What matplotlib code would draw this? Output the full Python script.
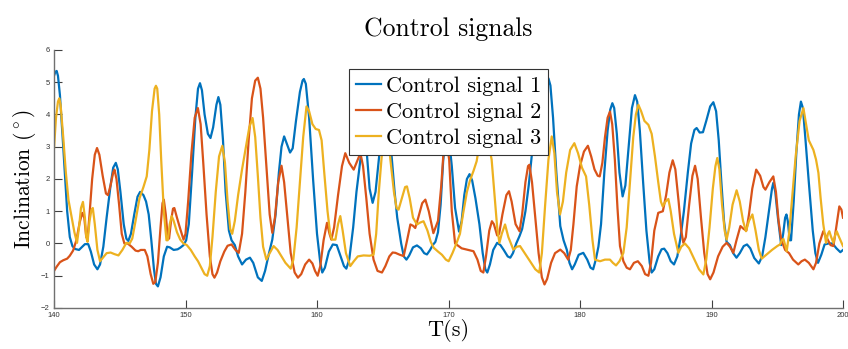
import matplotlib
matplotlib.use("Agg")
import matplotlib.pyplot as plt

# Control signal samples (time in s, inclination in degrees)
t1 = [140.0, 140.1, 140.2, 140.3, 140.45, 140.7, 141.0, 141.2, 141.4, 141.6, 141.9, 142.1, 142.35, 142.6,
      142.8, 143.05, 143.3, 143.5, 143.75, 144.0, 144.3, 144.5, 144.7, 144.85, 145.05, 145.3, 145.5, 145.65,
      145.85, 146.1, 146.35, 146.55, 146.8, 147.0, 147.2, 147.4, 147.6, 147.75, 147.9, 148.1, 148.35, 148.6,
      148.8, 149.1, 149.4, 149.6, 149.85, 150.05, 150.25, 150.5, 150.75, 150.95, 151.1, 151.25, 151.45, 151.7,
      151.9, 152.1, 152.35, 152.5, 152.65, 152.85, 153.05, 153.3, 153.5, 153.75, 154.0, 154.3, 154.6, 154.9,
      155.15, 155.5, 155.8, 156.05, 156.35, 156.6, 156.85, 157.1, 157.3, 157.5, 157.7, 157.95, 158.15, 158.4,
      158.7, 158.9, 159.0, 159.15, 159.4, 159.7, 160.0, 160.25, 160.4, 160.6, 160.9, 161.2, 161.5, 161.8,
      162.05, 162.23, 162.45, 162.75, 163.0, 163.3, 163.55, 163.75, 164.0, 164.23, 164.45, 164.7, 164.95,
      165.2, 165.45, 165.7, 165.9, 166.1, 166.4, 166.6, 166.8, 167.0, 167.3, 167.6, 167.9, 168.15, 168.36,
      168.6, 168.8, 169.0, 169.2, 169.4, 169.6, 169.85, 170.05, 170.25, 170.5, 170.8, 171.0, 171.2, 171.4,
      171.6, 171.8, 172.05, 172.35, 172.6, 172.8, 172.95, 173.15, 173.4, 173.7, 173.95, 174.2, 174.5, 174.7,
      174.9, 175.15, 175.4, 175.6, 175.85, 176.1, 176.35, 176.6, 176.9, 177.2, 177.45, 177.6, 177.75, 177.95,
      178.2, 178.5, 178.75, 179.0, 179.2, 179.4, 179.6, 179.9, 180.25, 180.55, 180.8, 181.0, 181.2, 181.4,
      181.6, 181.85, 182.1, 182.3, 182.46, 182.6, 182.8, 183.0, 183.24, 183.45, 183.7, 183.95, 184.18, 184.35,
      184.55, 184.8, 185.05, 185.3, 185.45, 185.65, 185.95, 186.2, 186.4, 186.65, 186.9, 187.15, 187.4,
      187.65, 187.9, 188.2, 188.45, 188.7, 188.87, 189.1, 189.35, 189.6, 189.9, 190.14, 190.35, 190.55,
      190.75, 190.95, 191.15, 191.4, 191.65, 191.9, 192.15, 192.45, 192.7, 192.95, 193.25, 193.6, 193.85,
      194.1, 194.4, 194.6, 194.7, 194.85, 195.05, 195.3, 195.45, 195.6, 195.7, 195.8, 195.95, 196.05, 196.25,
      196.45, 196.65, 196.8, 196.95, 197.15, 197.4, 197.7, 197.9, 198.1, 198.35, 198.6, 198.9, 199.2, 199.5,
      199.8, 200.0]
s1 = [5.2, 5.32, 5.35, 5.2, 4.6, 3.0, 1.0, 0.2, -0.08, -0.17, -0.2, -0.12, -0.02, -0.02,
      -0.25, -0.65, -0.8, -0.65, -0.1, 0.8, 1.8, 2.35, 2.5, 2.3, 1.6, 0.6, 0.15, 0.08,
      0.3, 0.9, 1.45, 1.6, 1.5, 1.3, 0.9, 0.1, -0.8, -1.25, -1.33, -1.05, -0.4, -0.1,
      -0.12, -0.2, -0.18, -0.13, -0.05, 0.1, 0.6, 2.2, 3.9, 4.8, 4.97, 4.75, 4.0, 3.4,
      3.27, 3.6, 4.3, 4.54, 4.3, 3.2, 1.6, 0.4, 0.1, -0.05, -0.4, -0.65, -0.5, -0.44,
      -0.6, -1.05, -1.16, -0.85, -0.3, 0.12, 0.9, 2.2, 3.0, 3.32, 3.1, 2.82, 2.95, 3.8,
      4.7, 5.05, 5.1, 4.95, 3.9, 2.0, 0.3, -0.6, -0.9, -0.75, -0.25, -0.03, -0.05, -0.4,
      -0.7, -0.78, -0.5, 0.5, 1.6, 2.6, 3.4, 3.0, 1.7, 1.26, 1.6, 2.6, 3.6,
      4.1, 3.8, 2.6, 1.6, 0.8, 0.0, -0.4, -0.5, -0.38, -0.12, -0.06, -0.15, -0.3, -0.34,
      -0.2, -0.05, 0.05, 0.35, 1.2, 2.6, 3.4, 3.2, 2.4, 1.1, 0.37, 0.7, 1.5, 2.0,
      2.15, 1.95, 1.4, 0.6, -0.3, -0.8, -0.9, -0.65, -0.2, 0.02, -0.05, -0.2, -0.4, -0.44,
      -0.3, 0.0, 0.23, 0.45, 1.0, 1.8, 2.8, 3.6, 4.3, 4.85, 5.1, 5.12, 4.9, 3.9,
      2.2, 0.54, 0.1, -0.2, -0.6, -0.8, -0.65, -0.35, -0.29, -0.5, -0.75, -0.8, -0.5, -0.1,
      0.6, 2.2, 3.5, 4.15, 4.35, 4.2, 3.4, 2.2, 1.46, 1.8, 3.0, 4.2, 4.6, 4.4,
      3.5, 1.9, 0.4, -0.6, -0.9, -0.8, -0.4, -0.18, -0.16, -0.3, -0.55, -0.65, -0.4,
      0.2, 1.0, 2.2, 3.1, 3.52, 3.58, 3.44, 3.45, 3.8, 4.25, 4.38, 4.1, 3.2,
      1.9, 0.7, 0.05, -0.05, -0.3, -0.44, -0.3, -0.08, -0.03, -0.15, -0.45, -0.62, -0.4,
      0.2, 1.1, 1.7, 1.88, 1.6, 0.8, -0.05, 0.3, 0.8, 0.9, 0.7, 0.1, 0.1, 1.3,
      2.8, 4.0, 4.4, 4.2, 3.2, 1.9, 0.4, -0.3, -0.6, -0.35, -0.03, 0.0, 0.0, -0.15,
      -0.27, -0.2]

t2 = [140.0, 140.2, 140.45, 140.7, 141.0, 141.2, 141.45, 141.7, 141.95, 142.15, 142.3, 142.45, 142.55, 142.7,
      142.9, 143.1, 143.27, 143.45, 143.7, 143.95, 144.1, 144.3, 144.5, 144.6, 144.75, 144.95, 145.15, 145.35,
      145.6, 145.9, 146.2, 146.4, 146.6, 146.9, 147.1, 147.35, 147.55, 147.7, 147.9, 148.1, 148.25, 148.35,
      148.5, 148.65, 148.75, 148.9, 149.05, 149.15, 149.35, 149.6, 149.85, 150.0, 150.2, 150.45, 150.7, 150.94,
      151.15, 151.35, 151.6, 151.85, 152.05, 152.2, 152.4, 152.65, 152.95, 153.2, 153.5, 153.8, 154.05, 154.3,
      154.55, 154.8, 155.05, 155.3, 155.5, 155.7, 155.9, 156.15, 156.4, 156.6, 156.8, 157.05, 157.3, 157.5,
      157.75, 158.0, 158.3, 158.55, 158.8, 159.1, 159.4, 159.65, 159.85, 160.05, 160.25, 160.5, 160.76, 160.95,
      161.09, 161.3, 161.6, 161.9, 162.15, 162.45, 162.79, 163.05, 163.3, 163.5, 163.75, 164.0, 164.3, 164.6,
      164.94, 165.2, 165.5, 165.75, 165.96, 166.3, 166.59, 166.85, 167.1, 167.3, 167.47, 167.7, 168.0, 168.24,
      168.5, 168.85, 169.2, 169.45, 169.6, 169.85, 170.05, 170.25, 170.5, 171.0, 171.5, 171.9, 172.2, 172.45,
      172.65, 172.85, 173.1, 173.3, 173.45, 173.7, 173.85, 174.1, 174.4, 174.6, 174.8, 175.1, 175.4, 175.6,
      175.85, 176.05, 176.15, 176.35, 176.6, 176.85, 177.1, 177.3, 177.5, 177.8, 178.1, 178.5, 178.8, 179.1,
      179.3, 179.5, 179.75, 180.0, 180.3, 180.6, 180.85, 181.1, 181.35, 181.5, 181.7, 181.9, 182.1, 182.28,
      182.45, 182.65, 182.85, 183.04, 183.3, 183.55, 183.8, 184.1, 184.4, 184.7, 184.95, 185.2, 185.4, 185.65,
      185.95, 186.3, 186.55, 186.8, 187.05, 187.25, 187.5, 187.7, 187.86, 188.05, 188.3, 188.55, 188.75,
      188.95, 189.2, 189.45, 189.7, 189.9, 190.15, 190.5, 190.85, 191.15, 191.4, 191.66, 191.9, 192.2,
      192.45, 192.65, 192.85, 193.1, 193.4, 193.7, 193.95, 194.1, 194.4, 194.7, 194.9, 195.1, 195.3, 195.6,
      195.9, 196.2, 196.6, 196.85, 197.1, 197.4, 197.75, 197.95, 198.2, 198.5, 198.8, 199.05, 199.27, 199.45,
      199.72, 199.88, 200.0]
s2 = [-0.85, -0.72, -0.58, -0.52, -0.47, -0.38, -0.22, 0.1, 0.65, 0.95, 0.8, 0.2, 0.15, 0.9,
      2.0, 2.75, 2.96, 2.75, 2.1, 1.55, 1.5, 1.8, 2.2, 2.29, 2.0, 1.2, 0.3, 0.0,
      0.0, -0.1, -0.22, -0.24, -0.2, -0.2, -0.4, -0.95, -1.25, -1.2, -0.6, 0.5, 1.25, 1.36,
      0.9, 0.2, 0.15, 0.7, 1.08, 1.1, 0.8, 0.45, 0.12, 0.3, 1.3, 2.8, 3.9, 4.2,
      3.7, 2.5, 0.9, -0.4, -0.95, -1.06, -0.9, -0.55, -0.25, -0.07, -0.03, -0.2, -0.29, 0.3,
      1.6, 3.2, 4.5, 5.05, 5.14, 4.8, 3.9, 2.4, 0.9, 0.33, 0.8, 1.9, 2.41, 1.9,
      0.8, -0.3, -0.9, -1.06, -0.95, -0.65, -0.5, -0.62, -0.85, -1.0, -0.7, 0.1, 0.64, 0.3,
      0.12, 0.5, 1.5, 2.4, 2.8, 2.5, 2.29, 2.55, 2.8, 2.4, 1.4, 0.3, -0.5, -0.85,
      -0.9, -0.7, -0.4, -0.28, -0.29, -0.35, -0.39, 0.1, 0.59, 0.55, 0.48, 0.8, 1.25, 1.36,
      1.0, 0.32, 0.7, 1.8, 2.7, 3.2, 2.6, 1.0, 0.0, -0.15, -0.2, -0.24, -0.5, -0.85,
      -0.9, -0.4, 0.4, 0.69, 0.6, 0.25, 0.3, 0.9, 1.5, 1.62, 1.3, 0.6, 0.38, 0.9,
      1.9, 2.4, 2.44, 1.9, 0.8, -0.3, -1.05, -1.27, -1.1, -0.6, -0.3, -0.19, -0.3, -0.5,
      -0.2, 0.6, 1.77, 2.4, 2.85, 3.03, 2.7, 2.3, 2.1, 2.08, 2.5, 3.3, 3.9, 4.09,
      3.7, 2.6, 1.1, -0.08, -0.55, -0.75, -0.8, -0.6, -0.55, -0.7, -0.95, -1.0, -0.6, 0.4,
      0.95, 1.0, 1.5, 2.2, 2.58, 2.3, 1.3, 0.4, 0.02, 0.2, 1.2, 2.1, 2.41,
      2.0, 0.8, -0.3, -0.95, -1.11, -0.9, -0.4, -0.1, 0.02, -0.1, -0.29, 0.1, 0.54,
      0.45, 0.4, 0.9, 1.7, 2.29, 2.1, 1.75, 1.67, 1.9, 2.08, 1.6, 0.7, 0.12, -0.2,
      -0.3, -0.5, -0.65, -0.55, -0.5, -0.6, -0.8, -0.6, 0.0, 0.38, 0.15, -0.05, -0.08, 0.4,
      1.15, 1.05, 0.8]

t3 = [140.0, 140.15, 140.3, 140.4, 140.5, 140.7, 140.9, 141.1, 141.35, 141.55, 141.75, 141.9, 142.05, 142.2,
      142.35, 142.45, 142.55, 142.7, 142.85, 142.95, 143.1, 143.3, 143.5, 143.7, 144.0, 144.3, 144.6, 144.9,
      145.2, 145.5, 145.75, 145.95, 146.2, 146.5, 146.8, 147.05, 147.25, 147.45, 147.65, 147.75, 147.85, 148.0,
      148.15, 148.35, 148.55, 148.65, 148.8, 148.95, 149.1, 149.35, 149.6, 149.85, 150.1, 150.4, 150.7, 150.95,
      151.2, 151.45, 151.65, 151.85, 152.05, 152.3, 152.55, 152.8, 153.0, 153.2, 153.4, 153.55, 153.75, 154.0,
      154.3, 154.6, 154.85, 155.1, 155.3, 155.5, 155.7, 155.9, 156.15, 156.4, 156.7, 157.0, 157.3, 157.6,
      158.0, 158.2, 158.45, 158.7, 158.95, 159.2, 159.4, 159.65, 159.9, 160.15, 160.35, 160.55, 160.8, 161.0,
      161.14, 161.4, 161.6, 161.77, 161.95, 162.2, 162.53, 162.8, 163.1, 163.54, 164.0, 164.3, 164.5, 164.7,
      164.94, 165.15, 165.35, 165.58, 165.85, 166.05, 166.2, 166.45, 166.7, 166.84, 167.05, 167.3, 167.6,
      167.85, 168.1, 168.4, 168.65, 168.87, 169.2, 169.5, 169.8, 170.01, 170.3, 170.6, 170.87, 171.1, 171.4,
      171.63, 171.9, 172.14, 172.4, 172.7, 173.0, 173.28, 173.5, 173.7, 173.87, 174.05, 174.3, 174.55, 174.93,
      175.2, 175.44, 175.8, 176.2, 176.6, 176.9, 177.1, 177.35, 177.6, 177.85, 178.05, 178.25, 178.48, 178.7,
      178.95, 179.25, 179.57, 179.85, 180.15, 180.46, 180.7, 180.95, 181.14, 181.52, 181.9, 182.28, 182.5,
      182.74, 183.0, 183.3, 183.55, 183.8, 184.05, 184.25, 184.44, 184.65, 184.9, 185.2, 185.45, 185.7, 185.95,
      186.15, 186.29, 186.5, 186.72, 186.9, 187.15, 187.48, 187.7, 187.98, 188.3, 188.7, 189.05, 189.38, 189.6,
      189.85, 190.1, 190.3, 190.44, 190.6, 190.8, 191.0, 191.15, 191.35, 191.6, 191.91, 192.15, 192.4, 192.62,
      192.85, 193.11, 193.35, 193.6, 193.82, 194.2, 194.6, 195.0, 195.21, 195.35, 195.47, 195.6, 195.72, 195.9,
      196.15, 196.4, 196.7, 196.99, 197.15, 197.4, 197.75, 197.95, 198.13, 198.3, 198.5, 198.71, 198.85,
      198.96, 199.1, 199.27, 199.4, 199.52, 199.7, 200.0]
s3 = [2.96, 3.9, 4.4, 4.5, 4.3, 3.3, 2.2, 1.35, 0.8, 0.35, 0.02, 0.5, 1.1, 1.29,
      0.8, 0.2, 0.05, 0.7, 1.05, 1.1, 0.6, -0.2, -0.55, -0.45, -0.3, -0.28, -0.33, -0.37,
      -0.2, 0.02, 0.0, 0.15, 0.7, 1.4, 1.75, 2.08, 2.9, 4.1, 4.8, 4.89, 4.8, 4.0,
      2.6, 1.0, 0.1, 0.1, 0.6, 0.85, 0.7, 0.35, 0.12, 0.0, -0.05, -0.2, -0.4, -0.55,
      -0.75, -0.95, -1.0, -0.7, 0.2, 1.6, 2.7, 3.03, 2.5, 1.3, 0.45, 0.3, 0.7, 1.5,
      2.3, 3.0, 3.6, 3.89, 3.3, 2.1, 0.8, -0.1, -0.5, -0.3, -0.08, -0.2, -0.4, -0.6,
      -0.78, -0.5, 0.5, 1.9, 3.3, 4.25, 4.1, 3.7, 3.55, 3.52, 3.2, 2.2, 1.0, 0.3,
      0.12, 0.12, 0.6, 0.85, 0.4, -0.3, -0.7, -0.55, -0.4, -0.37, -0.38, -0.35, 0.3, 1.6,
      2.8, 3.8, 3.6, 2.6, 1.6, 1.1, 1.05, 1.4, 1.75, 1.77, 1.4, 0.8, 0.59,
      0.65, 0.69, 0.4, 0.05, -0.13, -0.25, -0.35, -0.5, -0.55, -0.3, 0.0, 0.3, 0.9, 1.6,
      1.95, 2.25, 2.55, 3.2, 3.5, 3.2, 2.6, 1.5, 0.5, 0.02, 0.3, 0.59, 0.2, -0.19,
      -0.1, -0.08, -0.3, -0.55, -0.8, -0.9, -0.3, 1.2, 2.6, 3.32, 2.8, 1.6, 0.9, 1.3,
      2.2, 2.9, 3.11, 2.8, 2.35, 2.08, 1.2, 0.1, -0.5, -0.55, -0.5, -0.5, -0.6,
      -0.68, -0.55, -0.29, 0.5, 1.9, 3.3, 4.0, 4.3, 4.1, 3.8, 3.68, 3.4, 2.7, 1.9,
      1.3, 1.15, 1.3, 1.38, 1.0, 0.3, -0.29, -0.1, 0.0, -0.15, -0.5, -0.8, -0.96, -0.5,
      0.5, 1.7, 2.4, 2.65, 2.3, 1.2, 0.4, 0.12, 0.5, 1.2, 1.65, 1.3, 0.7, 0.38,
      0.7, 0.9, 0.4, -0.2, -0.47, -0.34, -0.2, -0.08, -0.03, 0.1, 0.14, -0.05, -0.24, 0.3,
      1.5, 2.7, 3.8, 4.2, 3.8, 3.2, 2.9, 2.6, 2.19, 1.4, 0.6, 0.02, 0.3,
      0.38, 0.2, 0.02, 0.25, 0.38, 0.2, -0.08]

labels = ["Control signal 1", "Control signal 2", "Control signal 3"]
colors = ["#0072BD", "#D95319", "#EDB120"]

plt.rcParams["mathtext.fontset"] = "cm"
serif = "cmr10"

fig = plt.figure(figsize=(8.48, 3.49), dpi=100)
ax = fig.add_axes([0.0637, 0.1175, 0.9304, 0.7393])

for t, s, lab, c in zip([t1, t2, t3], [s1, s2, s3], labels, colors):
    ax.plot(t, s, color=c, lw=1.6, label=lab, solid_joinstyle="round")

ax.set_xlim(140, 200)
ax.set_ylim(-2, 6)
ax.set_xticks(range(140, 201, 10))
ax.set_yticks(range(-2, 7))

for side in ["top", "right"]:
    ax.spines[side].set_visible(False)
for side in ["left", "bottom"]:
    ax.spines[side].set_color("#707070")
    ax.spines[side].set_linewidth(1.0)

ax.tick_params(direction="in", length=6, width=0.8, color="#404040",
               labelsize=5.5, labelcolor="#333333", pad=3)
for lbl in ax.get_xticklabels() + ax.get_yticklabels():
    lbl.set_family("Liberation Sans")

ax.set_title("Control signals", fontfamily=serif, fontsize=18.5, pad=10)
ax.set_xlabel("T(s)", fontfamily=serif, fontsize=16, labelpad=0)
ax.set_ylabel(r"Inclination $(^\circ)$", fontfamily=serif, fontsize=15.5, labelpad=2)

leg = ax.legend(loc="upper left", bbox_to_anchor=(0.374, 0.925), prop={"family": serif, "size": 16},
                frameon=True, fancybox=False, framealpha=1, edgecolor="#333333",
                handlelength=1.15, handletextpad=0.2, labelspacing=0.3, borderpad=0.3,
                borderaxespad=0)
leg.get_frame().set_linewidth(0.8)

fig.savefig("out.png", dpi=100)
